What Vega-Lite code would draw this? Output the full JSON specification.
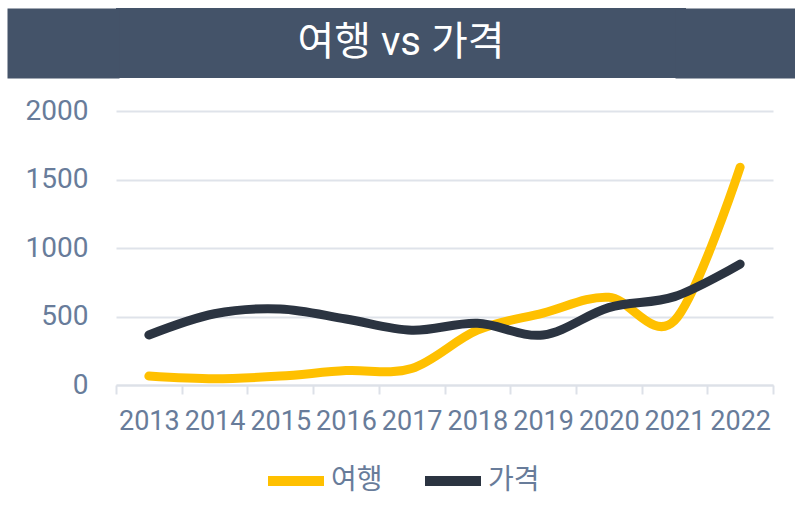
{
  "$schema": "https://vega.github.io/schema/vega-lite/v6.json",
  "padding": {"left": 7, "top": 8, "right": 0, "bottom": 0},
  "background": "white",
  "spacing": 19,
  "vconcat": [
    {
      "width": 570,
      "height": 70,
      "view": {"fill": "#445369", "stroke": null},
      "data": {"values": [{"t": "여행 vs 가격"}]},
      "layer": [
        {
          "mark": {"type": "text", "color": "white", "fontSize": 40, "align": "center", "baseline": "middle", "font": "Roboto, Noto Sans CJK KR, sans-serif"},
          "encoding": {
            "x": {"field": "t", "type": "nominal", "axis": null},
            "y": {"field": "t", "type": "nominal", "axis": {"orient": "left", "title": null, "labels": false, "ticks": false, "grid": false, "domainColor": "#445369", "domainWidth": 112, "offset": 53}},
            "text": {"field": "t"}
          }
        },
        {
          "mark": {"type": "text", "opacity": 0},
          "encoding": {
            "x": {"field": "t", "type": "nominal", "axis": null},
            "y": {"field": "t", "type": "nominal", "axis": {"orient": "right", "title": null, "labels": false, "ticks": false, "grid": false, "domainColor": "#445369", "domainWidth": 240, "offset": 109}},
            "text": {"field": "t"}
          }
        }
      ],
      "resolve": {"scale": {"y": "independent"}, "axis": {"y": "independent"}}
    },
    {
      "width": 657,
      "height": 274,
      "view": {"stroke": null},
      "data": {
        "values": [
          {"year": "2013", "series": "여행", "value": 65},
          {"year": "2014", "series": "여행", "value": 45},
          {"year": "2015", "series": "여행", "value": 65},
          {"year": "2016", "series": "여행", "value": 105},
          {"year": "2017", "series": "여행", "value": 120},
          {"year": "2018", "series": "여행", "value": 400},
          {"year": "2019", "series": "여행", "value": 525},
          {"year": "2020", "series": "여행", "value": 640},
          {"year": "2021", "series": "여행", "value": 470},
          {"year": "2022", "series": "여행", "value": 1590},
          {"year": "2013", "series": "가격", "value": 365},
          {"year": "2014", "series": "가격", "value": 520},
          {"year": "2015", "series": "가격", "value": 555},
          {"year": "2016", "series": "가격", "value": 482},
          {"year": "2017", "series": "가격", "value": 400},
          {"year": "2018", "series": "가격", "value": 450},
          {"year": "2019", "series": "가격", "value": 365},
          {"year": "2020", "series": "가격", "value": 565},
          {"year": "2021", "series": "가격", "value": 645},
          {"year": "2022", "series": "가격", "value": 883}
        ]
      },
      "mark": {"type": "line", "interpolate": "cardinal", "strokeWidth": 9, "strokeCap": "round", "strokeJoin": "round"},
      "encoding": {
        "x": {
          "field": "year",
          "type": "ordinal",
          "bandPosition": 0.5,
          "scale": {"type": "band", "paddingInner": 0, "paddingOuter": 0},
          "axis": {
            "title": null,
            "labelAngle": 0,
            "tickBand": "extent",
            "grid": false,
            "domainColor": "#dde1e8",
            "domainWidth": 2,
            "tickColor": "#dde1e8",
            "tickWidth": 2,
            "tickSize": 9,
            "labelFont": "Roboto",
            "labelFontSize": 27,
            "labelColor": "#687c9a",
            "labelPadding": 14,
            "labelOverlap": false
          }
        },
        "y": {
          "field": "value",
          "type": "quantitative",
          "scale": {"domain": [0, 2000]},
          "axis": {
            "title": null,
            "values": [0, 500, 1000, 1500, 2000],
            "format": "d",
            "domain": false,
            "ticks": false,
            "grid": true,
            "gridColor": "#dfe3ea",
            "gridWidth": 2,
            "labelPadding": 28,
            "minExtent": 109,
            "labelFont": "Roboto",
            "labelFontSize": 28,
            "labelColor": "#687c9a"
          }
        },
        "color": {
          "field": "series",
          "type": "nominal",
          "sort": ["여행", "가격"],
          "scale": {"domain": ["여행", "가격"], "range": ["#FFC000", "#2B3441"]},
          "legend": {
            "title": null,
            "orient": "bottom",
            "direction": "horizontal",
            "offset": 14,
            "symbolType": "stroke",
            "symbolSize": 3136,
            "symbolStrokeWidth": 10,
            "labelFont": "Roboto, Noto Sans CJK KR, sans-serif",
            "labelFontSize": 28,
            "labelColor": "#687c9a",
            "labelOffset": 2,
            "columnPadding": 22
          }
        }
      }
    }
  ],
  "config": {
    "font": "Roboto, Noto Sans CJK KR, sans-serif",
    "view": {"stroke": null},
    "legend": {"layout": {"bottom": {"anchor": "middle"}}}
  }
}
